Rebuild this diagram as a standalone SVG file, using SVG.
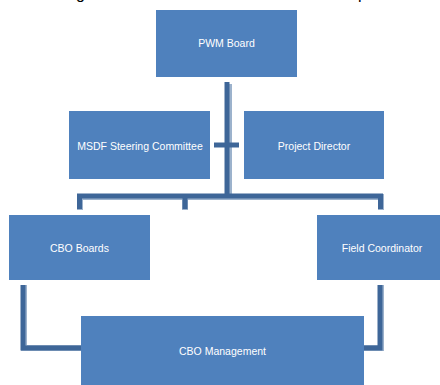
<svg xmlns="http://www.w3.org/2000/svg" width="440" height="385" viewBox="0 0 440 385">
<style>
.box{fill:#4f81bd}
.lbl{fill:#ffffff;font-family:"Liberation Sans",Arial,sans-serif;font-size:10.5px;text-anchor:middle;dominant-baseline:central}
.ttl{fill:#000000;font-family:"Liberation Sans",Arial,sans-serif;font-size:16px}
.sh{fill:none;stroke:#9cb2cc;stroke-width:6}
.ln{fill:none;stroke:#3e6698;stroke-width:5}
</style>
<rect width="440" height="385" fill="#ffffff"/>
<text class="ttl" x="76" y="-1">g</text>
<text class="ttl" x="358" y="-1">p</text>
<g id="connectors">
<path class="sh" d="M229,84 V197"/>
<path class="sh" d="M80,210 V197 H381 V210"/>
<path class="sh" d="M185,210 V197"/>
<path class="sh" d="M24,285 V348 H81"/>
<path class="sh" d="M381,285 V348 H364"/>
<path class="ln" d="M227,82 V196"/>
<path class="ln" d="M214,145 H239"/>
<path class="ln" d="M79.5,209 V196 H380.5 V209"/>
<path class="ln" d="M185,209 V196"/>
<path class="ln" d="M23,285 V348 H81"/>
<path class="ln" d="M380,285 V348 H364"/>
</g>
<g id="pwm-board">
<rect class="box" x="156" y="10" width="141" height="67"/>
<text class="lbl" x="226.5" y="43">PWM Board</text>
</g>
<g id="msdf-steering">
<rect class="box" x="69" y="111" width="141" height="68"/>
<text class="lbl" x="140" y="146">MSDF Steering Committee</text>
</g>
<g id="project-director">
<rect class="box" x="244" y="111" width="140" height="68"/>
<text class="lbl" x="314" y="146">Project Director</text>
</g>
<g id="cbo-boards">
<rect class="box" x="9" y="215" width="141" height="65"/>
<text class="lbl" x="79.5" y="248">CBO Boards</text>
</g>
<g id="field-coordinator">
<rect class="box" x="317" y="215" width="141" height="65"/>
<text class="lbl" x="382" y="248">Field Coordinator</text>
</g>
<g id="cbo-management">
<rect class="box" x="81" y="316" width="283" height="69"/>
<text class="lbl" x="222.5" y="351">CBO Management</text>
</g>
</svg>
